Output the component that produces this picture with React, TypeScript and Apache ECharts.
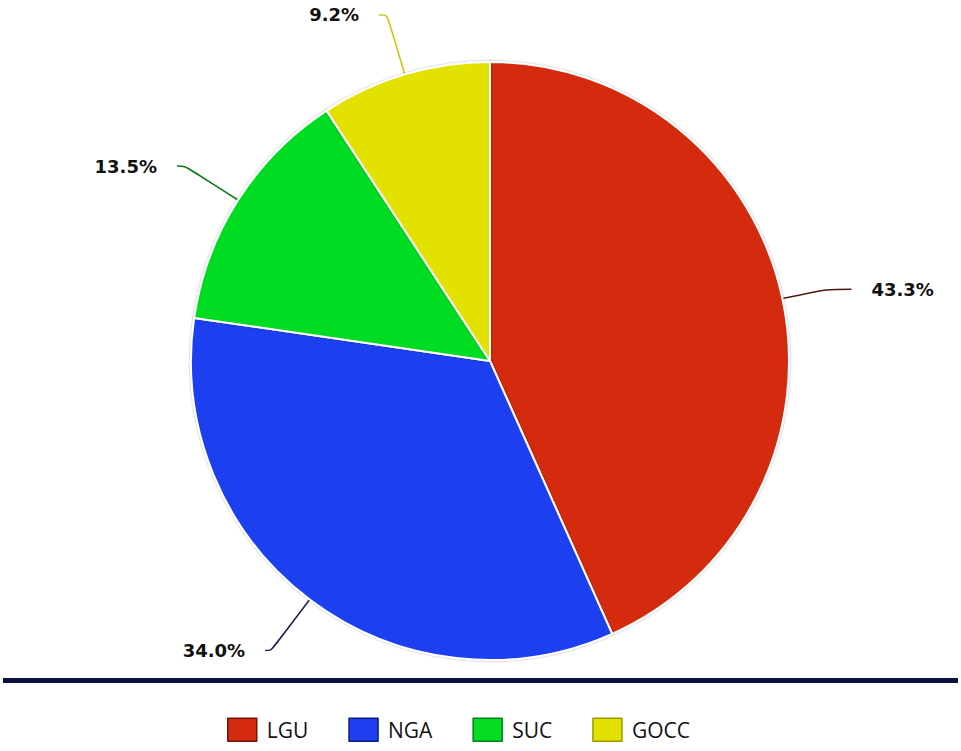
import React, { useEffect, useRef } from "react";
import * as echarts from "echarts";

const categories = ["LGU", "NGA", "SUC", "GOCC"];
const values = [43.3, 34.0, 13.5, 9.2];
const colors = ["#d42a10", "#1e3ff0", "#05dc20", "#e2e100"];
const legendBorders = ["#7a1205", "#0b1c80", "#04801a", "#9a9a00"];
const lineColors = ["#4a1a10", "#1a2050", "#0a7a12", "#c8c800"];
const lineLengths = [45, 64, 63, 62];
const lineLengths2 = [25, 6, 8, 8];

export default function App() {
  const ref = useRef<HTMLDivElement>(null);
  useEffect(() => {
    if (!ref.current) return;
    const chart = echarts.init(ref.current, null, { renderer: "svg" });
    chart.setOption({
      animation: false,
      backgroundColor: "#ffffff",
      legend: {
        bottom: 4,
        left: 222,
        itemWidth: 29,
        itemHeight: 23,
        itemGap: 40,
        icon: "rect",
        textStyle: { fontFamily: "Open Sans", fontSize: 21, color: "#111", padding: [0, 0, 0, 5] },
        data: categories.map((c, i) => ({
          name: c,
          itemStyle: { color: colors[i], borderColor: legendBorders[i], borderWidth: 1.5 },
        })),
      },
      graphic: [
        {
          type: "rect",
          shape: { x: 3, y: 678, width: 955, height: 5 },
          style: { fill: "#0b1040" },
        },
      ],
      series: [
        {
          type: "pie",
          center: [490, 361],
          radius: 299,
          startAngle: 90,
          clockwise: true,
          avoidLabelOverlap: false,
          itemStyle: {
            borderColor: "#ffffff",
            borderWidth: 2,
            shadowBlur: 2,
            shadowColor: "rgba(0,0,0,0.35)",
          },
          label: {
            show: true,
            position: "outside",
            fontFamily: "DejaVu Sans",
            fontWeight: "bold",
            fontSize: 18,
            color: "#111",
            distanceToLabelLine: 20,
            formatter: (p: any) => p.value.toFixed(1) + "%",
          },
          labelLine: { show: true, smooth: 0.3 },
          data: categories.map((c, i) => ({
            name: c,
            value: values[i],
            itemStyle: { color: colors[i] },
            labelLine: {
              length: lineLengths[i],
              length2: lineLengths2[i],
              lineStyle: { color: lineColors[i], width: 1.5 },
            },
          })),
        },
      ],
    });
    return () => chart.dispose();
  }, []);
  return (
    <div
      ref={ref}
      style={{ position: "fixed", left: 0, top: 0, width: 961, height: 751 }}
    />
  );
}
